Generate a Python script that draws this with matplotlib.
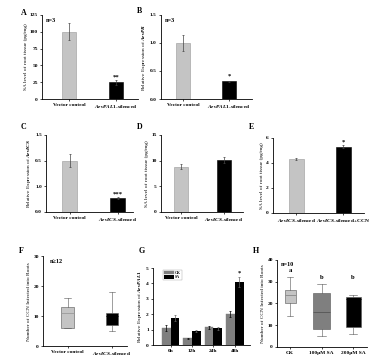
import matplotlib
matplotlib.use('Agg')
import numpy as np
import matplotlib.pyplot as plt

plt.rcParams['font.family'] = ['Liberation Serif', 'DejaVu Serif']
plt.rcParams['font.weight'] = 'bold'
plt.rcParams['mathtext.fontset'] = 'custom'
plt.rcParams['mathtext.rm'] = 'Liberation Serif:bold'
plt.rcParams['mathtext.it'] = 'Liberation Serif:italic:bold'
plt.rcParams['axes.linewidth'] = 0.6

# ---- data ----
# A
a_labels = ['Vector control', r'$\mathit{AevPAL1}$-silenced']
a_vals = [100, 25]
a_err = [13, 4]
# B
b_labels = ['Vector control', r'$\mathit{AevPAL1}$-silenced']
b_vals = [1.0, 0.32]
b_err = [0.15, 0.01]
# C (tick labels as printed in the figure)
c_labels = ['Vector control', r'$\mathit{AevICS}$-silenced']
c_vals = [1.0, 0.27]
c_err = [0.13, 0.02]
c_ticklabels = ['0.0', '1.0', '0.5', '1.5']
# D
d_labels = ['Vector control', r'$\mathit{AevICS}$-silenced']
d_vals = [8.8, 10.1]
d_err = [0.5, 0.5]
# E
e_labels = [r'$\mathit{AevICS}$-silenced', r'$\mathit{AevICS}$-silenced+CCN']
e_vals = [4.35, 5.3]
e_err = [0.08, 0.1]
# F box stats
f_labels = ['Vector control', r'$\mathit{AevICS}$-silenced']
f_whislo = [6, 5]
f_q1 = [6, 7]
f_med = [11, 10]
f_q3 = [13, 11]
f_whishi = [16, 18]
# G
g_times = ['0h', '12h', '24h', '48h']
g_ck = [1.1, 0.45, 1.15, 2.0]
g_ck_err = [0.2, 0.03, 0.1, 0.2]
g_sa = [1.75, 0.9, 1.1, 4.1]
g_sa_err = [0.2, 0.05, 0.1, 0.35]
# H box stats
h_labels = ['CK', '100\u03bcM SA', '200\u03bcM SA']
h_whislo = [14, 5, 6]
h_q1 = [20, 8, 9]
h_med = [24, 16, 22]
h_q3 = [26, 25, 23]
h_whishi = [32, 29, 24]
h_letters = ['a', 'b', 'b']

FS = 3.9
LIGHT = '#c4c4c4'
DARK = '#7f7f7f'

fig = plt.figure(figsize=(3.75, 3.64), dpi=100)


def style(ax):
	for s in ['top', 'right']:
		ax.spines[s].set_visible(False)
	ax.tick_params(labelsize=FS, length=1.5, width=0.5, pad=1.5)


def letter(x, y, t):
	fig.text(x, y, t, fontsize=5.8, fontweight='bold')


def bar_panel(rect, labels, vals, err, ylim, yticks, ylabel, xlim, width):
	ax = fig.add_axes(rect)
	x = np.arange(len(vals))
	ax.bar(x, vals, width=width, color=[LIGHT, 'black'], edgecolor=['#999999', 'black'],
		linewidth=0.4, yerr=err, capsize=1, error_kw=dict(elinewidth=0.5, capthick=0.5, ecolor='#444444'))
	ax.set_xlim(*xlim)
	ax.set_ylim(*ylim)
	ax.set_yticks(yticks)
	ax.set_xticks(x)
	ax.set_xticklabels(labels)
	ax.set_ylabel(ylabel, fontsize=FS, labelpad=1.5)
	style(ax)
	return ax


sa_lab = 'SA level of root tissue (pg/mg)'

ax = bar_panel([0.112, 0.728, 0.256, 0.231], a_labels, a_vals, a_err, (0, 125),
	[0, 25, 50, 75, 100, 125], sa_lab, (-0.58, 1.48), 0.3)
ax.text(-0.5, 120, 'n=3', fontsize=4.5, va='top')
ax.text(1, a_vals[1] + a_err[1] + 2, '**', fontsize=4.8, ha='center')
letter(0.055, 0.96, 'A')

ax = bar_panel([0.429, 0.728, 0.243, 0.231], b_labels, b_vals, b_err, (0, 1.5),
	[0, 0.5, 1.0, 1.5], r'Relative Expression of $\mathit{AevPR}$', (-0.48, 1.5), 0.3)
ax.set_yticklabels(['0.0', '0.5', '1.0', '1.5'])
ax.text(-0.4, 1.44, 'n=3', fontsize=4.5, va='top')
ax.text(1, b_vals[1] + b_err[1] + 0.05, '*', fontsize=4.8, ha='center')
letter(0.365, 0.965, 'B')

ax = bar_panel([0.123, 0.418, 0.232, 0.2115], c_labels, c_vals, c_err, (0, 1.5),
	[0, 0.5, 1.0, 1.5], r'Relative Expression of $\mathit{AevICS}$', (-0.49, 1.32), 0.31)
ax.set_yticklabels(c_ticklabels)
ax.text(1, c_vals[1] + c_err[1] + 0.03, '***', fontsize=4.8, ha='center')
letter(0.055, 0.645, 'C')

ax = bar_panel([0.429, 0.418, 0.219, 0.2115], d_labels, d_vals, d_err, (0, 15),
	[0, 5, 10, 15], sa_lab, (-0.48, 1.45), 0.32)
letter(0.365, 0.645, 'D')

ax = bar_panel([0.728, 0.415, 0.243, 0.206], e_labels, e_vals, e_err, (0, 6),
	[0, 2, 4, 6], sa_lab, (-0.5, 1.44), 0.32)
ax.text(1, e_vals[1] + e_err[1] + 0.15, '*', fontsize=4.8, ha='center')
letter(0.665, 0.645, 'E')


def box_panel(rect, labels, lo, q1, med, q3, hi, colors, medcolors, widths, ylim, yticks, xlim):
	ax = fig.add_axes(rect)
	stats = []
	for i in range(len(labels)):
		stats.append(dict(whislo=lo[i], q1=q1[i], med=med[i], q3=q3[i], whishi=hi[i], fliers=[]))
	pos = np.arange(len(labels))
	bp = ax.bxp(stats, positions=pos, widths=widths, patch_artist=True, showfliers=False)
	for b, c in zip(bp['boxes'], colors):
		b.set_facecolor(c)
		b.set_edgecolor('#555555')
		b.set_linewidth(0.4)
	for m, c in zip(bp['medians'], medcolors):
		m.set_color(c)
		m.set_linewidth(0.6)
	for w in bp['whiskers'] + bp['caps']:
		w.set_color('#555555')
		w.set_linewidth(0.4)
	ax.set_xticks(pos)
	ax.set_xticklabels(labels)
	ax.set_ylim(*ylim)
	ax.set_yticks(yticks)
	ax.set_xlim(*xlim)
	ax.set_ylabel('Number of CCN Infected into Roots', fontsize=FS, labelpad=1.5)
	style(ax)
	return ax


ax = box_panel([0.115, 0.049, 0.224, 0.247], f_labels, f_whislo, f_q1, f_med, f_q3, f_whishi,
	[LIGHT, 'black'], ['#999999', 'black'], [0.3, 0.25], (0, 30), [0, 10, 20, 30], (-0.55, 1.34))
ax.text(-0.4, 29, 'n\u226512', fontsize=4.5, va='top')
letter(0.05, 0.305, 'F')

ax = fig.add_axes([0.408, 0.052, 0.26, 0.2115])
x = np.arange(len(g_times))
w = 0.41
ax.bar(x - w / 2, g_ck, w, color=DARK, edgecolor=DARK, linewidth=0.3, yerr=g_ck_err, capsize=1,
	error_kw=dict(elinewidth=0.5, capthick=0.5), label='CK')
ax.bar(x + w / 2, g_sa, w, color='black', linewidth=0.3, yerr=g_sa_err, capsize=1,
	error_kw=dict(elinewidth=0.5, capthick=0.5, ecolor='#666666'), label='SA')
ax.set_xticks(x)
ax.set_xticklabels(g_times)
ax.set_xlim(-0.82, 3.73)
ax.set_ylim(0, 5)
ax.set_yticks(range(6))
ax.set_ylabel(r'Relative Expression of $\mathit{AevPAL1}$', fontsize=FS, labelpad=1.5)
ax.text(3 + w / 2, g_sa[3] + g_sa_err[3] + 0.1, '*', fontsize=4.8, ha='center')
ax.legend(loc='upper left', fontsize=2.9, frameon=True, fancybox=False, edgecolor='#888888',
	handlelength=2.5, handleheight=0.9, borderpad=0.2, labelspacing=0.1, handletextpad=0.3,
	bbox_to_anchor=(0.08, 1.0)).get_frame().set_linewidth(0.3)
style(ax)
letter(0.37, 0.305, 'G')

ax = box_panel([0.739, 0.047, 0.24, 0.239], h_labels, h_whislo, h_q1, h_med, h_q3, h_whishi,
	[LIGHT, DARK, 'black'], ['#888888', '#555555', 'black'], [0.35, 0.54, 0.48], (0, 40),
	[0, 10, 20, 30, 40], (-0.41, 2.44))
ax.text(-0.3, 39, 'n=10', fontsize=4.5, va='top')
letter_y = [34.5, 31, 31]
for i, t in enumerate(h_letters):
	ax.text(i, letter_y[i], t, fontsize=4.8, ha='center')
letter(0.675, 0.305, 'H')

fig.savefig('out.png', dpi=100)
